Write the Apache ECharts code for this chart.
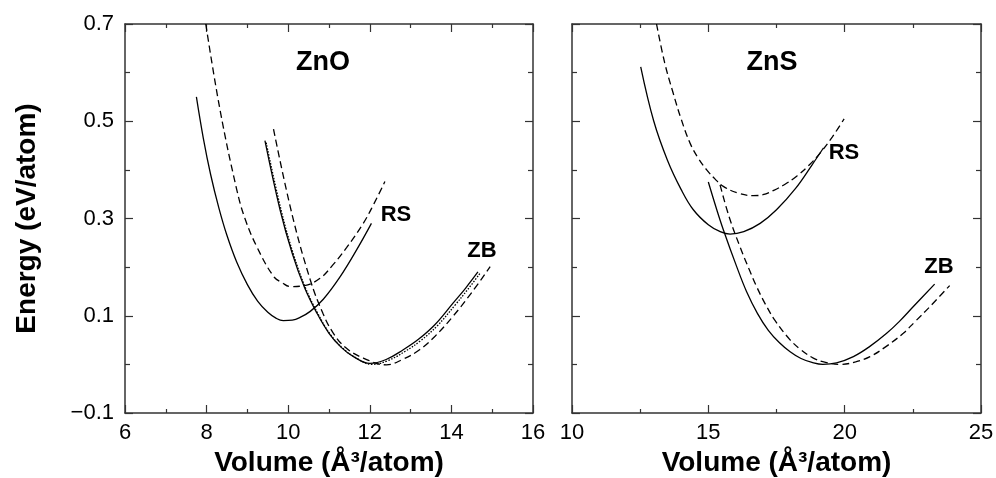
<!DOCTYPE html>
<html>
<head>
<meta charset="utf-8">
<title>ZnO / ZnS energy vs volume</title>
<script src="https://cdn.jsdelivr.net/npm/echarts@6/dist/echarts.min.js"></script>
<style>
  html, body { margin: 0; padding: 0; background: #fff; }
  #main { width: 996px; height: 478px; }
</style>
</head>
<body>
<div id="main"></div>
<script type="text/javascript">
// ZnO panel, points as [volume, energy]
var znoRsSolid = [[7.75, 0.55], [7.92, 0.465], [8.1, 0.39], [8.3, 0.322], [8.5, 0.265], [8.74, 0.21], [9.0, 0.164],
  [9.25, 0.13], [9.5, 0.107], [9.7, 0.095], [9.88, 0.09], [10.1, 0.091], [10.3, 0.097], [10.54, 0.109],
  [10.86, 0.134], [11.27, 0.18], [11.68, 0.236], [12.04, 0.29]];
var znoRsDash = [[7.98, 0.70], [8.33, 0.523], [8.74, 0.359], [8.94, 0.30], [9.23, 0.242], [9.64, 0.181],
  [9.85, 0.168], [10.05, 0.16], [10.4, 0.162], [10.78, 0.177], [11.1, 0.205], [11.43, 0.24], [11.84, 0.29],
  [12.1, 0.33], [12.37, 0.376]];
var znoZbSolid = [[9.43, 0.46], [9.8, 0.318], [10.1, 0.228], [10.4, 0.158], [10.7, 0.106], [11.0, 0.064],
  [11.3, 0.035], [11.6, 0.016], [12.0, 0.002], [12.4, 0.01], [12.82, 0.03], [13.2, 0.052], [13.6, 0.082],
  [14.04, 0.126], [14.35, 0.157], [14.65, 0.19]];
var znoZbDot = [[9.46, 0.456], [9.83, 0.316], [10.13, 0.226], [10.43, 0.156], [10.73, 0.104], [11.03, 0.062],
  [11.34, 0.033], [11.65, 0.014], [12.05, 0.0], [12.45, 0.008], [12.87, 0.027], [13.25, 0.049], [13.65, 0.079],
  [14.09, 0.122], [14.4, 0.154], [14.7, 0.187]];
var znoZbDash = [[9.64, 0.484], [10.09, 0.31], [10.54, 0.174], [10.85, 0.105], [11.1, 0.065], [11.4, 0.035],
  [11.84, 0.013], [12.41, -0.001], [12.8, 0.01], [13.22, 0.03], [13.6, 0.058], [14.04, 0.099], [14.5, 0.148],
  [14.95, 0.201]];

// ZnS panel
var znsRsSolid = [[12.52, 0.612], [13.0, 0.50], [13.5, 0.42], [14.0, 0.36], [14.45, 0.318], [15.0, 0.287],
  [15.4, 0.274], [15.8, 0.268], [16.3, 0.273], [16.9, 0.29], [17.5, 0.318], [18.2, 0.362], [18.8, 0.41], [19.22, 0.445]];
var znsRsDash = [[13.1, 0.70], [13.4, 0.62], [13.71, 0.558], [14.0, 0.505], [14.33, 0.455], [14.64, 0.423],
  [14.94, 0.40], [15.25, 0.381], [15.55, 0.366], [16.1, 0.352], [16.65, 0.347], [17.0, 0.349], [17.4, 0.358],
  [17.8, 0.37], [18.24, 0.387], [18.7, 0.41], [19.09, 0.434], [19.55, 0.468], [19.98, 0.505]];
var znsZbSolid = [[15.0, 0.375], [15.31, 0.318], [15.55, 0.277], [16.04, 0.201], [16.4, 0.15], [16.8, 0.105],
  [17.2, 0.07], [17.6, 0.045], [18.0, 0.026], [18.4, 0.012], [18.8, 0.004], [19.2, 0.0], [19.7, 0.003],
  [20.32, 0.016], [20.9, 0.036], [21.54, 0.064], [22.0, 0.088], [22.52, 0.119], [23.3, 0.165]];
var znsZbDash = [[15.43, 0.369], [15.76, 0.304], [16.16, 0.242], [16.5, 0.195], [16.77, 0.16], [17.1, 0.123],
  [17.45, 0.09], [17.99, 0.051], [18.4, 0.03], [18.85, 0.013], [19.3, 0.004], [19.83, 0.0], [20.4, 0.005],
  [20.93, 0.016], [21.5, 0.036], [22.15, 0.064], [22.6, 0.089], [23.13, 0.119], [23.85, 0.162]];

var axisColor = '#333';
var font = 'Liberation Sans';

function makeX(grid, min, max, step, top) {
  return {
    type: 'value', gridIndex: grid, min: min, max: max, interval: step,
    position: top ? 'top' : 'bottom',
    axisLine: { show: true, onZero: false, lineStyle: { color: axisColor, width: 1.5 } },
    axisTick: { inside: true, length: 8, lineStyle: { color: axisColor, width: 1.2 } },
    minorTick: { show: true, splitNumber: 2, length: 4, lineStyle: { color: axisColor, width: 1.2 } },
    splitLine: { show: false },
    axisLabel: { show: !top, fontSize: 22, color: '#000', margin: 9, fontFamily: font },
    name: top ? '' : 'Volume (Å³/atom)',
    nameLocation: 'middle', nameGap: 27,
    nameTextStyle: { fontSize: 28, fontWeight: 'bold', fontFamily: font, color: '#000' }
  };
}

function makeY(grid, right, labels) {
  return {
    type: 'value', gridIndex: grid, min: -0.1, max: 0.7, interval: 0.2,
    position: right ? 'right' : 'left',
    axisLine: { show: true, onZero: false, lineStyle: { color: axisColor, width: 1.5 } },
    axisTick: { inside: true, length: 8, lineStyle: { color: axisColor, width: 1.2 } },
    minorTick: { show: true, splitNumber: 2, length: 5, lineStyle: { color: axisColor, width: 1.2 } },
    splitLine: { show: false },
    axisLabel: {
      show: labels, fontSize: 22, color: '#000', margin: 11, fontFamily: font,
      formatter: function (v) { return v < 0 ? '\u2212' + Math.abs(v).toFixed(1) : v.toFixed(1); }
    },
    name: labels ? 'Energy (eV/atom)' : '',
    nameLocation: 'middle', nameGap: 84,
    nameTextStyle: { fontSize: 28, fontWeight: 'bold', fontFamily: font, color: '#000' }
  };
}

function curve(data, type, xi) {
  return {
    type: 'line', data: data, xAxisIndex: xi, yAxisIndex: xi,
    smooth: 0.4, showSymbol: false, symbol: 'none',
    lineStyle: {
      color: '#000', width: 1.3,
      type: type === 'dash' ? [7, 4] : (type === 'dot' ? [1.5, 1.5] : 'solid')
    }
  };
}

function label(text, x, y, size) {
  return {
    type: 'text',
    style: { text: text, x: x, y: y, align: 'center', verticalAlign: 'middle',
      font: 'bold ' + size + 'px "' + font + '"', fill: '#000' }
  };
}

var myChart = echarts.init(document.getElementById('main'));

var option = {
  animation: false,
  grid: [
    { left: 125, top: 24, width: 408, height: 389, outerBoundsMode: 'none' },
    { left: 572, top: 24, width: 409, height: 389, outerBoundsMode: 'none' }
  ],
  xAxis: [makeX(0, 6, 16, 2, false), makeX(0, 6, 16, 2, true), makeX(1, 10, 25, 5, false), makeX(1, 10, 25, 5, true)],
  yAxis: [makeY(0, false, true), makeY(0, true, false), makeY(1, false, false), makeY(1, true, false)],
  series: [
    curve(znoRsSolid, 'solid', 0),
    curve(znoRsDash, 'dash', 0),
    curve(znoZbSolid, 'solid', 0),
    curve(znoZbDot, 'dot', 0),
    curve(znoZbDash, 'dash', 0),
    curve(znsRsSolid, 'solid', 2),
    curve(znsRsDash, 'dash', 2),
    curve(znsZbSolid, 'solid', 2),
    curve(znsZbDash, 'dash', 2)
  ],
  graphic: [
    label('ZnO', 323, 63, 27),
    label('RS', 396, 215, 22),
    label('ZB', 482, 251, 22),
    label('ZnS', 772, 63, 27),
    label('RS', 844, 153, 22),
    label('ZB', 939, 267, 22)
  ]
};

myChart.setOption(option);
</script>
</body>
</html>
